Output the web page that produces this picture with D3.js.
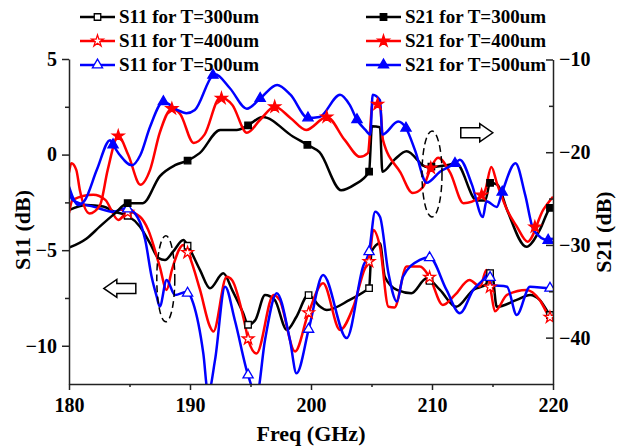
<!DOCTYPE html>
<html>
<head>
<meta charset="utf-8">
<script src="https://cdn.jsdelivr.net/npm/d3@7"></script>
<style>
body { margin: 0; background: #fff; }
text { font-family: "Liberation Serif", "Times New Roman", serif; font-weight: bold; fill: #000; }
</style>
</head>
<body>
<script>
// S11 (left axis, dB) - frequency in GHz
var s11BlackF = [180,181.46,182.83,183.8,184.85,185.87,186.7,187.4,187.93,188.6,189.45,189.86,190.83,191.65,192.75,193.5,194.4,194.8,195.4,196.2,197.0,198.0,198.8,199.78,200.74,201.3,203.2,204.6,204.8,205.0,205.7,206.1,207.1,208.3,209.56,210.66,212.0,213.4,214.5,214.6,214.96,215.35,217.0,218.1,218.9,219.75,220];
var s11BlackV = [-2.9,-2.64,-2.72,-3.0,-3.2,-3.77,-4.64,-5.42,-5.51,-5.08,-4.47,-4.82,-6.04,-6.99,-6.21,-7.1,-8.3,-8.9,-8.65,-7.34,-7.6,-9.17,-8.48,-7.34,-7.95,-8.13,-7.6,-7.08,-6.99,-5.08,-4.64,-6.39,-7.08,-7.25,-6.47,-7.08,-7.96,-7.08,-6.77,-6.2,-6.2,-7.96,-7.6,-7.34,-7.6,-8.39,-8.55];

var s11RedF = [180,180.3,182.0,183.0,184.07,184.9,185.87,186.55,187.5,188.07,188.5,189.45,189.73,190.83,191.65,191.93,193.03,193.47,194.55,194.82,195.5,196.9,197.4,198.68,199.78,201.0,202.4,203.5,204.46,204.8,205.15,205.7,206.4,206.9,207.9,209.0,209.78,210.9,211.9,213.1,213.97,214.5,214.85,215.2,216.2,217.8,218.9,219.7,220];
var s11RedV = [-3.05,-2.37,-2.1,-2.37,-3.42,-2.99,-3.25,-3.94,-5.86,-7.08,-6.04,-4.73,-4.99,-7.08,-9.0,-9.26,-6.39,-6.56,-8.91,-9.7,-10.4,-7.34,-7.6,-10.3,-8.3,-6.73,-9.17,-7.96,-5.95,-5.6,-3.94,-4.82,-7.96,-8.0,-5.86,-5.86,-6.39,-7.87,-7.34,-6.56,-6.9,-6.04,-7.08,-8.2,-7.34,-7.08,-7.6,-8.48,-8.65];

var s11BlueF = [180,180.3,180.9,182.0,183.66,184.77,185.7,186.3,186.83,187.25,187.5,188.07,188.76,189.73,190.27,191.1,191.5,192.07,192.9,193.7,194.82,195.5,196.2,197.17,198.26,198.8,199.86,201.0,202.95,204.3,204.8,205.3,205.7,206.4,207.1,207.6,209.0,209.78,211.2,212.3,213.4,214.5,214.7,214.9,216.2,217.0,218.1,219.75,220];
var s11BlueV = [-2.02,-2.37,-2.55,-2.72,-2.99,-2.8,-3.32,-4.47,-6.39,-7.43,-7.95,-6.56,-7.34,-7.17,-7.78,-10.4,-12.5,-10.74,-6.91,-8.65,-11.58,-12.6,-9.7,-7.25,-9.7,-11.44,-9.0,-6.3,-9.6,-5.86,-5.08,-2.99,-3.25,-6.21,-7.69,-6.39,-5.51,-5.37,-7.08,-8.3,-7.08,-6.3,-6.04,-6.82,-6.91,-8.39,-6.91,-6.99,-6.98];

// S21 (right axis, dB)
var s21BlackF = [180,181.46,182.56,183.8,184.85,186.1,187.5,188.76,189.8,190.8,192.5,193.86,194.8,196.0,198.5,199.7,200.7,202.5,203.6,204.8,205.04,205.7,205.9,206.9,207.9,209.56,211.2,212.0,213.7,214.4,214.8,215.4,216.2,217.8,218.9,219.75,220];
var s21BlackV = [-30.3,-29.3,-28.0,-26.6,-25.5,-25.5,-22.6,-21.4,-20.9,-20.1,-17.6,-17.6,-17.1,-16.2,-18.3,-19.2,-20.0,-24.1,-23.5,-22.1,-17.2,-17.3,-22.1,-20.8,-19.9,-21.6,-21.4,-21.2,-25.2,-25.2,-23.3,-23.5,-26.2,-30.2,-28.4,-26.0,-25.7];

var s21RedF = [180,180.2,180.6,180.9,181.7,182.56,183.2,184.07,184.9,185.9,186.7,187.5,188.5,189.2,190.3,191.2,192.5,193.5,194.7,195.8,197.0,198.3,199.6,201.3,202.8,204.05,204.7,205.1,205.7,205.95,207.4,208.4,209.26,209.9,210.5,211.5,212.6,214.0,214.4,214.9,215.4,216.2,217.0,217.9,219.2,220];
var s21RedV = [-22.2,-21.2,-21.9,-24.1,-26.6,-25.7,-21.9,-18.25,-20.3,-23.5,-21.9,-17.9,-15.3,-15.9,-19.0,-18.1,-14.1,-14.9,-17.9,-16.5,-15.1,-16.3,-17.6,-16.2,-18.7,-20.5,-20.1,-14.7,-14.9,-18.7,-22.2,-24.4,-23.75,-21.7,-20.6,-22.2,-25.5,-24.8,-24.1,-21.6,-23.5,-26.2,-28.0,-29.65,-26.2,-24.8];

var s21BlueF = [180,180.3,180.74,181.3,182.3,183.4,183.64,184.2,185.2,185.9,186.7,187.8,188.9,189.7,190.4,191.9,192.07,193.3,194.7,195.8,197.2,198.3,199.75,200.7,202.4,203.2,203.8,204.5,204.9,205.1,205.7,205.9,207.2,207.85,208.6,209.56,210.66,211.9,212.3,213.3,214.2,214.5,215.35,215.8,216.9,217.7,218.4,219.6,220];
var s21BlueV = [-23.7,-24.8,-25.7,-25.2,-21.9,-18.7,-19.2,-20.3,-21.4,-20.3,-17.25,-14.55,-15.4,-15.8,-15.45,-11.7,-11.6,-13.1,-15.3,-14.2,-12.75,-13.8,-16.3,-16.2,-13.8,-14.9,-16.5,-17.6,-18.1,-13.8,-14.4,-18.1,-16.7,-17.4,-19.8,-23.3,-22.1,-21.2,-20.8,-23.5,-27.0,-25.3,-25.9,-24.3,-21.2,-24.6,-28.4,-29.5,-29.3];

// marker frequencies
var s11Marks = [184.85,189.8,194.8,199.8,204.8,209.8,214.8,219.75];
var s21BlackMarks = [184.85,189.8,194.8,199.7,204.8,209.95,214.8,219.75];
var s21RedMarks = [184.07,188.5,192.6,197.0,201.3,205.5,209.9,214.1,218.5];
var s21BlueMarks = [183.64,187.8,191.9,195.8,199.75,203.8,207.85,211.9,215.8,219.6];

var xTicks = [180,190,200,210,220], xMinor = [185,195,205,215];
var yLTicks = [-10,-5,0,5], yLMinor = [-7.5,-2.5,2.5];
var yRTicks = [-40,-30,-20,-10], yRMinor = [-35,-25,-15];

var w = 622, h = 446;
var svg = d3.select("body").append("svg").attr("width", w).attr("height", h);

var x = d3.scaleLinear().domain([180,220]).range([69,553]);
var yL = d3.scaleLinear().domain([-12,5]).range([384,59]);
var yR = d3.scaleLinear().domain([-45,-10]).range([384,59.5]);

svg.append("clipPath").attr("id","plot").append("rect")
  .attr("x", 69).attr("y", 40).attr("width", 484).attr("height", 344);

function interp(fs, vs, f) {
  var i = d3.bisectLeft(fs, f);
  if (i <= 0) return vs[0];
  if (i >= fs.length) return vs[vs.length-1];
  var t = (f - fs[i-1]) / (fs[i] - fs[i-1]);
  return vs[i-1] + t * (vs[i] - vs[i-1]);
}

var series = [
  {f: s11BlackF, v: s11BlackV, y: yL, c: "#000", sym: d3.symbolSquare, size: 42, fill: "#fff", marks: s11Marks},
  {f: s11RedF, v: s11RedV, y: yL, c: "#ff0000", sym: d3.symbolStar, size: 42, fill: "#fff", marks: s11Marks},
  {f: s11BlueF, v: s11BlueV, y: yL, c: "#0000ff", sym: d3.symbolTriangle, size: 45, fill: "#fff", marks: s11Marks},
  {f: s21BlackF, v: s21BlackV, y: yR, c: "#000", sym: d3.symbolSquare, size: 42, fill: "#000", marks: s21BlackMarks},
  {f: s21RedF, v: s21RedV, y: yR, c: "#ff0000", sym: d3.symbolStar, size: 42, fill: "#ff0000", marks: s21RedMarks},
  {f: s21BlueF, v: s21BlueV, y: yR, c: "#0000ff", sym: d3.symbolTriangle, size: 45, fill: "#0000ff", marks: s21BlueMarks}
];

var plot = svg.append("g").attr("clip-path", "url(#plot)");

series.forEach(function(s) {
  var pts = s.f.map(function(f, i) { return [f, s.v[i]]; });
  var line = d3.line().x(function(d){ return x(d[0]); }).y(function(d){ return s.y(d[1]); })
    .curve(d3.curveMonotoneX);
  plot.append("path").datum(pts)
    .attr("d", line)
    .attr("fill", "none")
    .attr("stroke", s.c)
    .attr("stroke-width", 2.5)
    .attr("stroke-linejoin", "round");
});

series.forEach(function(s) {
  plot.selectAll(null).data(s.marks).enter().append("path")
    .attr("d", d3.symbol().type(s.sym).size(s.size))
    .attr("transform", function(f){ return "translate(" + x(f) + "," + s.y(interp(s.f, s.v, f)) + ")"; })
    .attr("fill", s.fill)
    .attr("stroke", s.c)
    .attr("stroke-width", 1.3);
});

// axes
function styleAxis(g) {
  g.selectAll("path, line").attr("stroke", "#222").attr("stroke-width", 1.5);
  g.selectAll("text").style("font-size", "20px").style("font-family", "Liberation Serif, serif").style("font-weight", "bold").attr("fill", "#000");
}

var gx = svg.append("g").attr("transform", "translate(0,384)")
  .call(d3.axisBottom(x).tickValues(xTicks).tickSize(6).tickSizeOuter(0).tickPadding(8).tickFormat(d3.format("d")));
styleAxis(gx);
svg.append("g").attr("transform", "translate(0,384)")
  .call(d3.axisBottom(x).tickValues(xMinor).tickSize(3).tickSizeOuter(0).tickFormat(""))
  .call(styleAxis).select(".domain").remove();

var gl = svg.append("g").attr("transform", "translate(69,0)")
  .call(d3.axisLeft(yL).tickValues(yLTicks).tickSize(7).tickSizeOuter(0).tickPadding(5).tickFormat(d3.format("d")));
styleAxis(gl);
svg.append("g").attr("transform", "translate(69,0)")
  .call(d3.axisLeft(yL).tickValues(yLMinor).tickSize(4).tickSizeOuter(0).tickFormat(""))
  .call(styleAxis).select(".domain").remove();

var gr = svg.append("g").attr("transform", "translate(553,0)")
  .call(d3.axisRight(yR).tickValues(yRTicks).tickSizeInner(-7).tickSizeOuter(0).tickPadding(6).tickFormat(d3.format("d")));
styleAxis(gr);
svg.append("g").attr("transform", "translate(553,0)")
  .call(d3.axisRight(yR).tickValues(yRMinor).tickSizeInner(-4).tickSizeOuter(0).tickFormat(""))
  .call(styleAxis).select(".domain").remove();

// axis titles
svg.append("text").attr("x", 311).attr("y", 441).attr("text-anchor", "middle")
  .style("font-size", "22px").text("Freq (GHz)");
svg.append("text").attr("transform", "translate(30,230) rotate(-90)").attr("text-anchor", "middle")
  .style("font-size", "22px").text("S11 (dB)");
svg.append("text").attr("transform", "translate(611,232) rotate(-90)").attr("text-anchor", "middle")
  .style("font-size", "22px").text("S21 (dB)");

// dashed ellipses and arrows (annotations, in data units)
svg.append("ellipse").attr("cx", x(188.0)).attr("cy", yL(-6.5))
  .attr("rx", 9).attr("ry", 43)
  .attr("fill", "none").attr("stroke", "#000").attr("stroke-width", 1.5).attr("stroke-dasharray", "7,4");
svg.append("ellipse").attr("cx", x(210.0)).attr("cy", yR(-22.35))
  .attr("rx", 10).attr("ry", 43)
  .attr("fill", "none").attr("stroke", "#000").attr("stroke-width", 1.5).attr("stroke-dasharray", "7,4");

function arrow(cx, cy, dir) {
  // block arrow 32 px long
  var pts = [[-16,-5],[3,-5],[3,-9],[16,0],[3,9],[3,5],[-16,5]];
  svg.append("path")
    .attr("d", "M" + pts.map(function(p){ return p.join(","); }).join("L") + "Z")
    .attr("transform", "translate(" + cx + "," + cy + ") scale(" + dir + ",1)")
    .attr("fill", "#fff").attr("stroke", "#000").attr("stroke-width", 1.5);
}
arrow(x(184.2), yL(-7.0), -1);
arrow(x(213.7), yR(-17.9), 1);

// legend
var legendNames = ["S11 for T=300um","S11 for T=400um","S11 for T=500um","S21 for T=300um","S21 for T=400um","S21 for T=500um"];
var legend = svg.append("g");
series.forEach(function(s, i) {
  var col = i < 3 ? 0 : 1, row = i % 3;
  var lx = col === 0 ? 80 : 366, ly = 17 + row * 24;
  var g = legend.append("g").attr("transform", "translate(" + lx + "," + ly + ")");
  g.append("line").attr("x1", 0).attr("x2", 35).attr("y1", 0).attr("y2", 0)
    .attr("stroke", s.c).attr("stroke-width", 2.5);
  g.append("path").attr("d", d3.symbol().type(s.sym).size(s.size))
    .attr("transform", "translate(17.5,0)")
    .attr("fill", s.fill).attr("stroke", s.c).attr("stroke-width", 1.3);
  g.append("text").attr("x", 39).attr("y", 0).attr("dy", "0.33em")
    .style("font-size", "19px").text(legendNames[i]);
});
</script>
</body>
</html>
